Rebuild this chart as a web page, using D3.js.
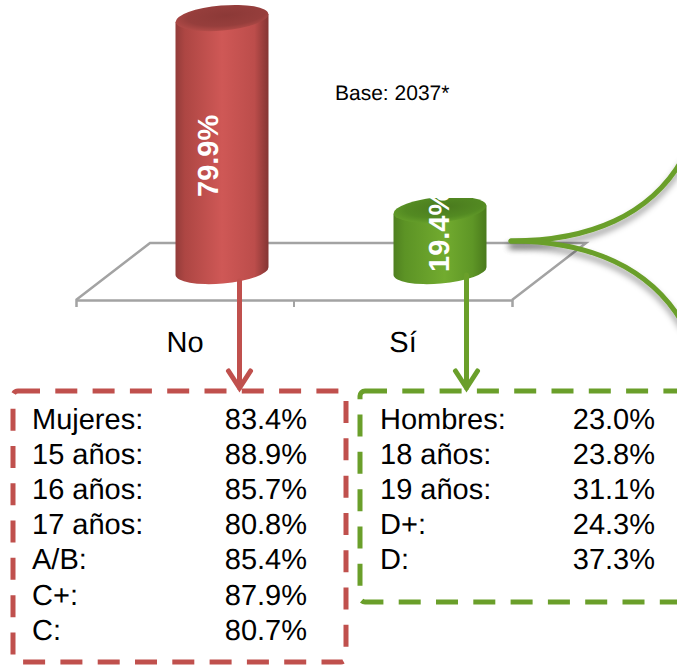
<!DOCTYPE html><html><head><meta charset="UTF-8"><script src="https://d3js.org/d3.v7.min.js"></script><style>
    html, body { margin: 0; background: #fff; overflow: hidden; }
    svg { display: block; font-family: "Liberation Sans", Arial, sans-serif; text-rendering: geometricPrecision; }
</style></head><body><div id="chart"></div><script>
const categories = ['No', 'Sí'];
const values = [79.9, 19.4];
const baseNote = 'Base: 2037*';

const noLabels = ['Mujeres:', '15 años:', '16 años:', '17 años:', 'A/B:', 'C+:', 'C:'];
const noValues = [83.4, 88.9, 85.7, 80.8, 85.4, 87.9, 80.7];
const siLabels = ['Hombres:', '18 años:', '19 años:', 'D+:', 'D:'];
const siValues = [23.0, 23.8, 31.1, 24.3, 37.3];

const red = '#c0504d';
const green = '#6a9f2a';
const grey = '#a3a3a3';

const svg = d3.select('#chart').append('svg')
    .attr('width', 677)
    .attr('height', 666);

const defs = svg.append('defs');

function addStops(g, stops) {
    stops.forEach(s => g.append('stop').attr('offset', s[0]).attr('stop-color', s[1]));
}
addStops(defs.append('linearGradient').attr('id', 'bodyNo'),
    [[0, '#933c3a'], [0.1, '#ad4643'], [0.5, '#cf5856'], [0.85, '#bc4d4b'], [1, '#843533']]);
addStops(defs.append('linearGradient').attr('id', 'bodySi'),
    [[0, '#4f8020'], [0.12, '#5c9325'], [0.55, '#72ab2f'], [0.85, '#5e9626'], [1, '#4a7a1c']]);
addStops(defs.append('radialGradient').attr('id', 'topNo').attr('cx', 0.55).attr('cy', 0.4).attr('r', 0.6),
    [[0, '#8c3937'], [0.7, '#963e3c'], [1, '#b04a47']]);
addStops(defs.append('radialGradient').attr('id', 'topSi').attr('cx', 0.55).attr('cy', 0.4).attr('r', 0.6),
    [[0, '#4a7a1e'], [0.7, '#538a22'], [1, '#639c29']]);

const shadow = defs.append('filter').attr('id', 'curveShadow')
    .attr('x', '-20%').attr('y', '-30%').attr('width', '140%').attr('height', '160%');
shadow.append('feDropShadow')
    .attr('dx', 0).attr('dy', 5).attr('stdDeviation', 3)
    .attr('flood-color', '#000').attr('flood-opacity', 0.4);

defs.append('clipPath').attr('id', 'labelClip').append('rect')
    .attr('x', 0).attr('y', 198).attr('width', 677).attr('height', 200);

// scales: the front edge of the floor is the band axis, the bars sit 37px back
const x = d3.scaleBand().domain(categories).range([76, 512]);
const y = d3.scaleLinear().domain([0, 100]).range([271, -45.6]);
const depth = 37;
const rx = 46.5;
const ry = 12.5;
const tilt = -5;

// floor of the 3D plot
const floorY = 300;
const backY = 243;
const floorBack = 74;
svg.append('path')
    .attr('d', `M${x.range()[0]},${floorY}L${x.range()[0] + floorBack},${backY}H${x.range()[1] + floorBack}L${x.range()[1]},${floorY}`)
    .attr('fill', 'none').attr('stroke', grey).attr('stroke-width', 2.5);

const axis = d3.axisBottom(x).tickSize(0).tickSizeOuter(7);
const axisG = svg.append('g').attr('transform', `translate(0,${floorY})`).call(axis);
axisG.select('.domain').attr('stroke', grey).attr('stroke-width', 2.5);
axisG.selectAll('.tick text')
    .attr('y', 52).attr('dy', 0)
    .attr('font-size', 29).attr('font-family', '"Liberation Sans", Arial, sans-serif')
    .attr('fill', '#000');
axisG.append('line')
    .attr('x1', x(categories[1])).attr('x2', x(categories[1]))
    .attr('y1', 0).attr('y2', 7)
    .attr('stroke', grey).attr('stroke-width', 2);

// cylinders
const bars = svg.selectAll('.bar').data(categories).enter().append('g').attr('class', 'bar');
const cx = d => x(d) + x.bandwidth() / 2 + depth;
const dyTilt = rx * Math.sin(-tilt * Math.PI / 180);

bars.append('path')
    .attr('d', (d, i) => {
        const top = y(values[i]), bot = y(0);
        return `M${cx(d) - rx},${top + dyTilt}V${bot + dyTilt}` +
            `A${rx},${ry} ${tilt} 0 0 ${cx(d) + rx},${bot - dyTilt}V${top - dyTilt}Z`;
    })
    .attr('fill', (d, i) => i ? 'url(#bodySi)' : 'url(#bodyNo)');

bars.append('ellipse')
    .attr('cx', 0).attr('cy', 0).attr('rx', rx).attr('ry', ry)
    .attr('transform', (d, i) => `translate(${cx(d)},${y(values[i])}) rotate(${tilt})`)
    .attr('fill', (d, i) => i ? 'url(#topSi)' : 'url(#topNo)');

// value labels, rotated; the second one is cut at the top of the bar
bars.append('text')
    .attr('transform', (d, i) => `translate(${cx(d) + (i ? 9 : -4)},${i ? 272 : 197}) rotate(-90)`)
    .attr('font-size', 29).attr('font-weight', 'bold').attr('fill', '#fff')
    .text((d, i) => values[i].toFixed(1) + '%');
bars.filter((d, i) => i === 1).attr('clip-path', 'url(#labelClip)');

svg.append('text')
    .attr('x', 335).attr('y', 100)
    .attr('font-size', 21)
    .text(baseNote);

// curves leaving the Sí bar
function branch(c1y, c2y, endY) {
    const p = d3.path();
    p.moveTo(511, 241);
    p.bezierCurveTo(590, c1y, 650, c2y, 682, endY);
    return p.toString();
}
[branch(241, 215, 160), branch(241, 268, 322)].forEach(d => {
    svg.append('path')
        .attr('d', d)
        .attr('fill', 'none').attr('stroke', green).attr('stroke-width', 5)
        .attr('stroke-linecap', 'round')
        .attr('filter', 'url(#curveShadow)');
});

// arrows into the boxes
function arrow(xPos, y0, y1, color) {
    svg.append('path')
        .attr('d', `M${xPos},${y0}V${y1}M${xPos - 11},${y1 - 17}L${xPos},${y1}L${xPos + 11},${y1 - 17}`)
        .attr('fill', 'none').attr('stroke', color).attr('stroke-width', 5)
        .attr('stroke-linecap', 'round').attr('stroke-linejoin', 'miter');
}
arrow(239.5, 281, 388, red);
arrow(466.5, 275, 388, green);

// dashed boxes with the breakdowns
function box(bx, by, bw, bh, color, labels, vals, textX, valueX) {
    svg.append('rect')
        .attr('x', bx).attr('y', by).attr('width', bw).attr('height', bh).attr('rx', 5)
        .attr('fill', 'none').attr('stroke', color).attr('stroke-width', 5)
        .attr('stroke-dasharray', '22 15.3');
    const rowY = d3.scalePoint().domain(d3.range(labels.length)).range([429, 429 + 35.1 * (labels.length - 1)]);
    svg.append('g').selectAll('text').data(labels).enter().append('text')
        .attr('x', textX).attr('y', (d, i) => rowY(i))
        .attr('font-size', 29).text(d => d);
    svg.append('g').selectAll('text').data(vals).enter().append('text')
        .attr('x', valueX).attr('y', (d, i) => rowY(i))
        .attr('text-anchor', 'end')
        .attr('font-size', 29).text(d => d.toFixed(1) + '%');
}
box(13, 391, 333, 271, red, noLabels, noValues, 32, 307);
box(360, 391, 340, 211, green, siLabels, siValues, 380, 655);
</script></body></html>
